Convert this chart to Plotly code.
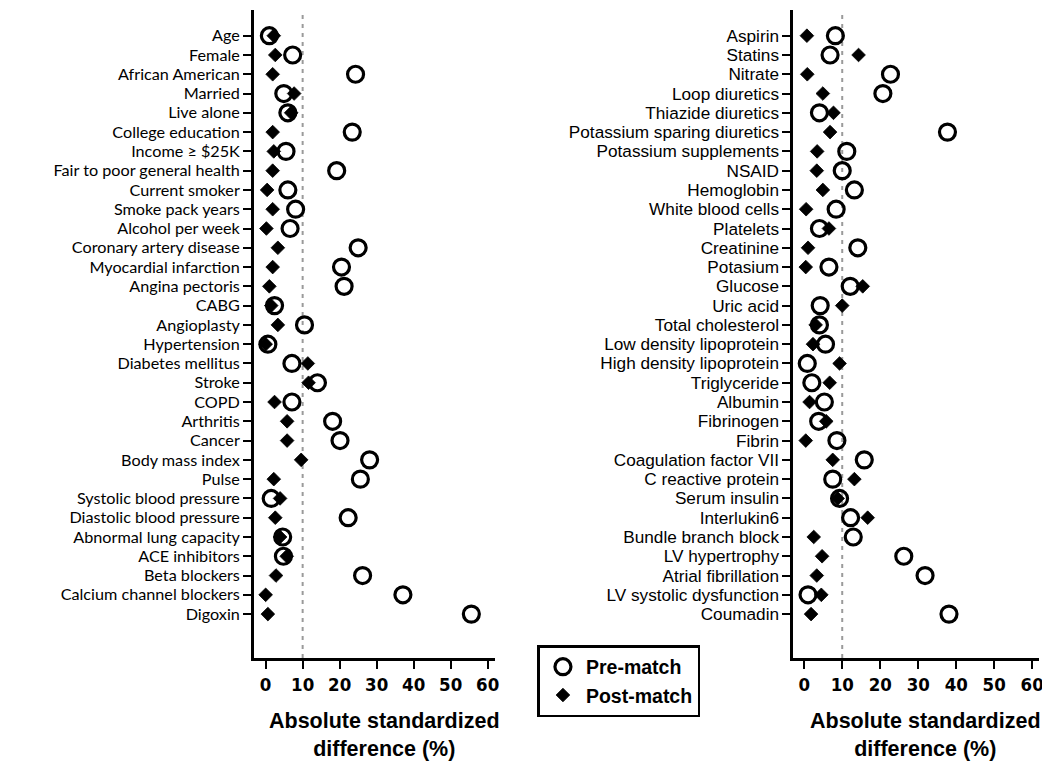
import plotly.graph_objects as go

left_labels = ["Age", "Female", "African American", "Married", "Live alone", "College education",
               "Income ≥ $25K", "Fair to poor general health", "Current smoker", "Smoke pack years",
               "Alcohol per week", "Coronary artery disease", "Myocardial infarction", "Angina pectoris",
               "CABG", "Angioplasty", "Hypertension", "Diabetes mellitus", "Stroke", "COPD", "Arthritis",
               "Cancer", "Body mass index", "Pulse", "Systolic blood pressure", "Diastolic blood pressure",
               "Abnormal lung capacity", "ACE inhibitors", "Beta blockers", "Calcium channel blockers", "Digoxin"]
left_pre = [1.0, 7.3, 24.3, 4.9, 6.0, 23.4, 5.5, 19.2, 6.0, 8.1, 6.6, 25.0, 20.5, 21.2, 2.4, 10.5,
            0.6, 7.1, 14.0, 7.1, 18.1, 20.1, 28.1, 25.6, 1.5, 22.3, 4.6, 4.8, 26.2, 37.1, 55.6]
left_post = [2.2, 2.6, 1.9, 7.7, 6.9, 1.9, 2.2, 1.9, 0.4, 1.9, 0.2, 3.3, 1.9, 1.0, 1.5, 3.3,
             0.0, 11.4, 11.6, 2.4, 5.8, 5.8, 9.6, 2.2, 3.9, 2.6, 3.9, 5.7, 2.8, 0.0, 0.6]

right_labels = ["Aspirin", "Statins", "Nitrate", "Loop diuretics", "Thiazide diuretics",
                "Potassium sparing diuretics", "Potassium supplements", "NSAID", "Hemoglobin",
                "White blood cells", "Platelets", "Creatinine", "Potasium", "Glucose", "Uric acid",
                "Total cholesterol", "Low density lipoprotein", "High density lipoprotein", "Triglyceride",
                "Albumin", "Fibrinogen", "Fibrin", "Coagulation factor VII", "C reactive protein",
                "Serum insulin", "Interlukin6", "Bundle branch block", "LV hypertrophy",
                "Atrial fibrillation", "LV systolic dysfunction", "Coumadin"]
right_pre = [8.2, 6.8, 22.7, 20.7, 4.0, 37.7, 11.2, 10.0, 13.2, 8.4, 4.0, 14.1, 6.5, 12.1, 4.2,
             4.0, 5.6, 0.8, 2.0, 5.3, 3.8, 8.6, 15.8, 7.5, 9.3, 12.2, 12.9, 26.2, 31.8, 1.0, 38.1]
right_post = [0.7, 14.3, 0.8, 4.9, 7.7, 6.8, 3.4, 3.3, 4.9, 0.5, 6.5, 1.0, 0.4, 15.4, 10.0,
              3.0, 2.3, 9.3, 6.7, 1.4, 5.8, 0.4, 7.5, 13.2, 8.8, 16.7, 2.5, 4.7, 3.3, 4.5, 1.8]

x_ticks = [0, 10, 20, 30, 40, 50, 60]
x_title = "Absolute standardized<br>difference (%)"
threshold = 10

# page body has an 8px margin; figure sized to fit the 1050x765 window
OFF = 8
W, H = 1050 - OFF, 765 - OFF


def px(x):
    return (x - OFF) / W


def py(y):
    return 1 - (y - OFF) / H


circle_style = dict(symbol="circle-open", size=16, color="black", line=dict(width=3.2, color="black"))
diamond_style = dict(symbol="diamond", size=10.5, color="black", line=dict(width=0.8, color="black"))

fig = go.Figure()
yl = list(range(len(left_labels)))
yr = list(range(len(right_labels)))

fig.add_trace(go.Scatter(x=left_pre, y=yl, mode="markers", marker=circle_style, name="Pre-match",
                         xaxis="x", yaxis="y", showlegend=True))
fig.add_trace(go.Scatter(x=left_post, y=yl, mode="markers", marker=diamond_style, name="Post-match",
                         xaxis="x", yaxis="y", showlegend=True))
fig.add_trace(go.Scatter(x=right_pre, y=yr, mode="markers", marker=circle_style, name="Pre-match",
                         xaxis="x2", yaxis="y2", showlegend=False))
fig.add_trace(go.Scatter(x=right_post, y=yr, mode="markers", marker=diamond_style, name="Post-match",
                         xaxis="x2", yaxis="y2", showlegend=False))

tickfont_x = dict(family="Liberation Sans Narrow, DejaVu Sans Condensed, Arial Narrow", size=18.5,
                  color="black", weight="bold")
top_px, bot_px = 10, 658
ydom = [py(bot_px), py(top_px)]
row0, step = 35.7, 19.28
yrange = [(bot_px - row0) / step, (top_px - row0) / step]

common_x = dict(showgrid=False, zeroline=False, showline=True, linecolor="black", linewidth=2.5,
                ticks="outside", ticklen=8, tickwidth=2, tickcolor="black", tickvals=x_ticks,
                tickfont=tickfont_x)
common_y = dict(showgrid=False, zeroline=False, showline=True, linecolor="black", linewidth=2.5,
                ticks="outside", ticklen=8, tickwidth=2, tickcolor="black", domain=ydom,
                range=yrange)

fig.update_layout(
    width=W, height=H,
    margin=dict(l=0, r=0, t=0, b=0),
    paper_bgcolor="white", plot_bgcolor="white",
    xaxis=dict(common_x, domain=[px(255), px(497)], range=[-3.2, 61.9], anchor="y"),
    yaxis=dict(common_y, anchor="x", tickvals=yl, ticktext=left_labels,
               tickfont=dict(family="Lato, Open Sans", size=16.2, color="black")),
    xaxis2=dict(common_x, domain=[px(797), px(1044)], range=[-2.9, 61.8], anchor="y2"),
    yaxis2=dict(common_y, anchor="x2", tickvals=yr, ticktext=right_labels,
                tickfont=dict(family="Liberation Sans, Arial", size=17.2, color="black")),
    legend=dict(x=px(540), y=py(645), xanchor="left", yanchor="top", itemwidth=36,
                bordercolor="black", borderwidth=2.5, bgcolor="white",
                font=dict(family="Liberation Sans, Arial", size=19.5, color="black", weight="bold")),
    showlegend=True,
)

for xr, yr_ in [("x", "y domain"), ("x2", "y2 domain")]:
    fig.add_shape(type="line", xref=xr, yref=yr_, x0=threshold, x1=threshold, y0=0, y1=1,
                  line=dict(color="#9a9a9a", width=2, dash="4px,5px"), layer="below")

for cx in [386, 930]:
    fig.add_annotation(x=px(cx), y=py(707), xref="paper", yref="paper", xanchor="center",
                       yanchor="top", showarrow=False, text=x_title, align="center",
                       font=dict(family="Liberation Sans, Arial", size=21.5, color="black", weight="bold"))

fig.write_html("out.html")
